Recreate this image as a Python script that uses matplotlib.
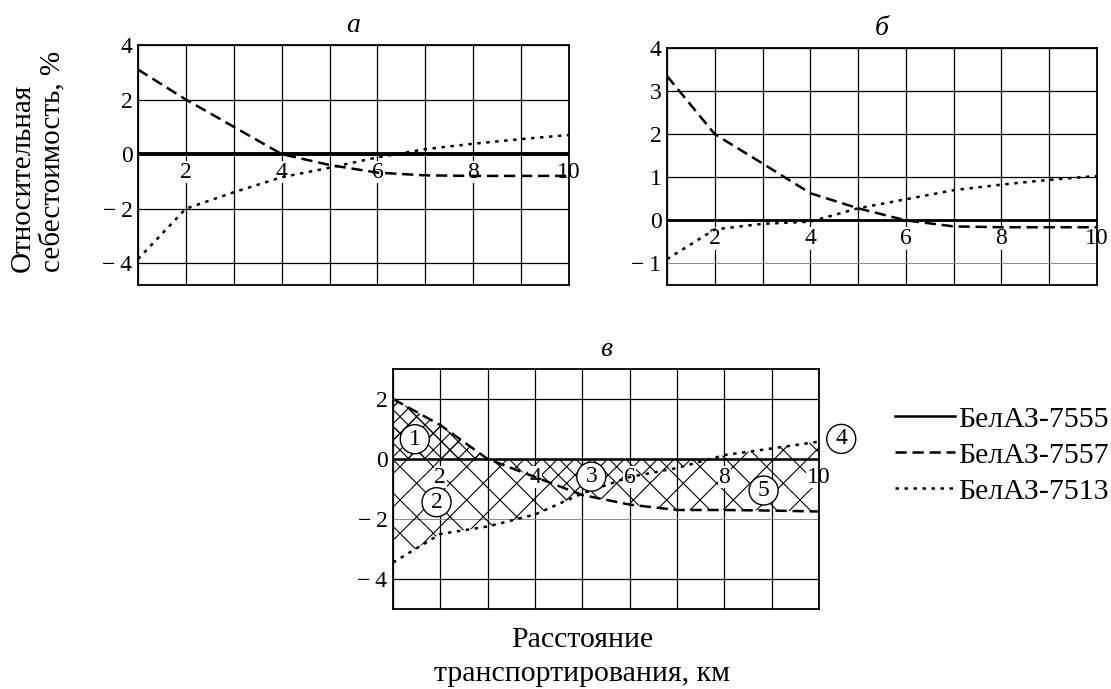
import numpy as np
import matplotlib
matplotlib.use("Agg")
import matplotlib.pyplot as plt

plt.rcParams['font.family'] = ['Liberation Serif', 'DejaVu Serif']
plt.rcParams['hatch.linewidth'] = 0.8

# ---- data ----
x = [1, 2, 3, 4, 5, 6, 7, 8, 9, 10]
xlabels = [2, 4, 6, 8, 10]

# panel а
a_7555 = [0, 0, 0, 0, 0, 0, 0, 0, 0, 0]
a_7557 = [3.1, 2.0, 1.0, 0.0, -0.4, -0.68, -0.78, -0.8, -0.8, -0.8]
a_7513 = [-3.85, -2.0, -1.4, -0.85, -0.5, -0.12, 0.18, 0.38, 0.55, 0.7]
a_yticks = [4, 2, 0, -2, -4]

# panel б
b_7555 = [0, 0, 0, 0, 0, 0, 0, 0, 0, 0]
b_7557 = [3.35, 2.0, 1.32, 0.63, 0.28, 0.0, -0.14, -0.16, -0.16, -0.16]
b_7513 = [-0.9, -0.21, -0.08, -0.03, 0.28, 0.49, 0.7, 0.83, 0.94, 1.03]
b_yticks = [4, 3, 2, 1, 0, -1]

# panel в
v_7555 = [0, 0, 0, 0, 0, 0, 0, 0, 0, 0]
v_7557 = [2.0, 1.13, 0.0, -0.6, -1.2, -1.52, -1.7, -1.7, -1.72, -1.75]
v_7513 = [-3.45, -2.5, -2.25, -1.85, -1.15, -0.6, -0.3, 0.13, 0.35, 0.58]
v_yticks = [2, 0, -2, -4]

region_labels = ['1', '2', '3', '4', '5']
region_pos = [(1.46, 0.66), (1.92, -1.44), (5.19, -0.59), (10.47, 0.67), (8.83, -1.05)]

legend_labels = ['БелАЗ-7555', 'БелАЗ-7557', 'БелАЗ-7513']
titles = ['а', 'б', 'в']

W, H = 1111, 689
fig = plt.figure(figsize=(W / 100, H / 100), dpi=100)


def px_axes(l, r, t, b):
    return fig.add_axes([l / W, 1 - b / H, (r - l) / W, (b - t) / H])


TICK_FS = 17
DASH = (0, (4.5, 2.3))
DOT = (0, (1.4, 2.2))


def setup(ax, ylim, yticks, title, gray_lines=()):
    ax.set_xlim(1, 10)
    ax.set_ylim(*ylim)
    ax.set_xticks(x)
    ax.set_yticks(yticks)
    ax.set_xticklabels([])
    ax.set_yticklabels([str(v).replace('-', '\u2212\u2009') for v in yticks],
                       fontsize=TICK_FS)
    ax.tick_params(length=0, pad=4)
    ax.grid(True, color='black', lw=0.9)
    ax.set_axisbelow(True)
    for t in ax.yaxis.get_major_ticks():
        if t.get_loc() in gray_lines:
            t.gridline.set_color('#8a8a8a')
            t.gridline.set_linewidth(0.7)
    for s in ax.spines.values():
        s.set_linewidth(1.3)
        s.set_color('black')
    ax.set_title(title, fontsize=20, style='italic', pad=9)
    for v in xlabels:
        ax.annotate(str(v), xy=(v, 0), xytext=(0, -5.5), textcoords='offset points',
                    ha='center', va='top', fontsize=TICK_FS, zorder=2.5,
                    annotation_clip=False,
                    bbox=dict(fc='white', ec='none', pad=0.5))


# panel а
ax_a = px_axes(138, 569, 45, 285)
setup(ax_a, (-4.8, 4), a_yticks, titles[0])
ax_a.plot(x, a_7555, color='black', lw=2.8, zorder=3)
ax_a.plot(x, a_7557, color='black', lw=1.8, ls=DASH, zorder=3)
ax_a.plot(x, a_7513, color='black', lw=1.8, ls=DOT, zorder=3)

# panel б
ax_b = px_axes(667, 1097, 48, 285)
setup(ax_b, (-1.5, 4), b_yticks, titles[1], gray_lines=(-1,))
ax_b.plot(x, b_7555, color='black', lw=2.0, zorder=3)
ax_b.plot(x, b_7557, color='black', lw=1.8, ls=DASH, zorder=3)
ax_b.plot(x, b_7513, color='black', lw=1.8, ls=DOT, zorder=3)

# panel в
ax_v = px_axes(393, 819, 369, 609)
setup(ax_v, (-5, 3), v_yticks, titles[2], gray_lines=(-2,))

xf = np.linspace(1, 10, 600)
d_f = np.interp(xf, x, v_7557)
t_f = np.interp(xf, x, v_7513)
# coarse hatch between the two curves
ax_v.fill_between(xf, d_f, t_f, facecolor='none', edgecolor='black',
                  hatch='x', lw=0, zorder=1)
# dense hatch: between zero and the upper curve while 7513 is below zero
upper = np.maximum(d_f, t_f)
ax_v.fill_between(xf, 0, upper, where=(t_f <= 0), facecolor='none',
                  edgecolor='black', hatch='xx', lw=0, zorder=1.1)

l1, = ax_v.plot(x, v_7555, color='black', lw=1.8, zorder=3)
l2, = ax_v.plot(x, v_7557, color='black', lw=1.8, ls=DASH, zorder=3)
l3, = ax_v.plot(x, v_7513, color='black', lw=1.8, ls=DOT, zorder=3)

circ = dict(boxstyle='circle,pad=0.17', fc='white', ec='black', lw=1.0)
for s, (cx, cy) in zip(region_labels, region_pos):
    ax_v.text(cx, cy, s, ha='center', va='center', fontsize=17, zorder=4,
              bbox=circ, clip_on=False)

ax_v.legend([l1, l2, l3], legend_labels, loc='upper left',
            bbox_to_anchor=(895 / W, 1 - 406 / H), bbox_transform=fig.transFigure,
            frameon=False, fontsize=21.5, handlelength=2.0, handletextpad=0.12,
            labelspacing=0.3, borderpad=0, borderaxespad=0)

fig.text(38 / W, 1 - 272 / H, 'Относительная\nсебестоимость, %', rotation=90,
         ha='center', va='bottom', multialignment='left', fontsize=21,
         linespacing=1.2)
fig.text(582 / W, 1 - 657 / H, 'Расстояние\nтранспортирования, км',
         ha='center', va='center', fontsize=21.5, linespacing=1.42)

fig.savefig('out.png', dpi=100)
